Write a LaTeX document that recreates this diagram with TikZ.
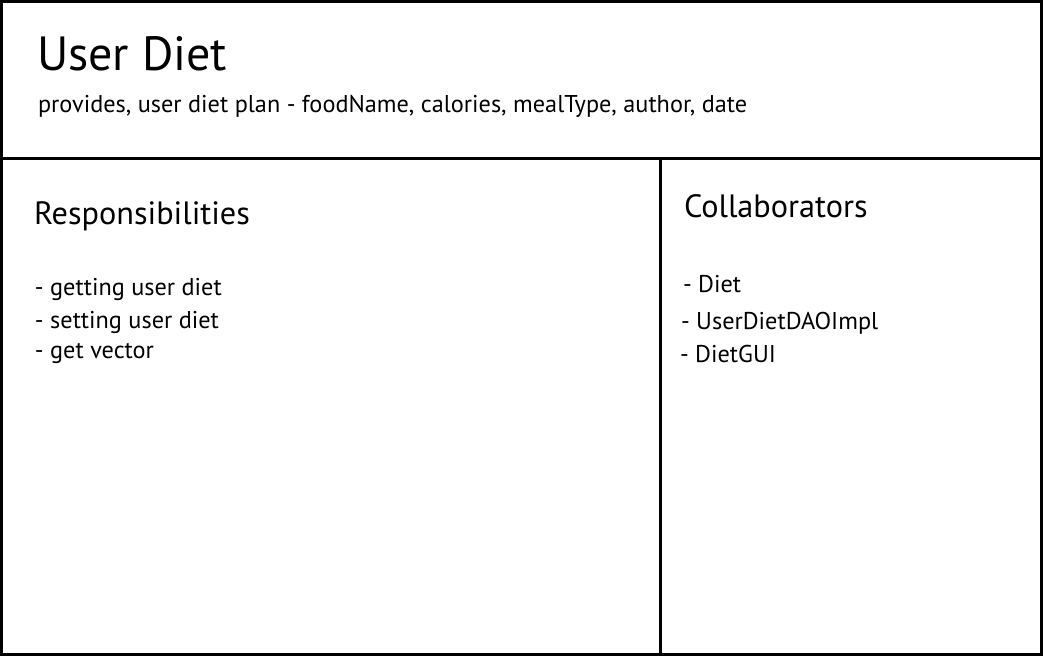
\documentclass[tikz,border=0pt]{standalone}
\usepackage{fontspec}
\setmainfont{PT Sans}
\usetikzlibrary{positioning}

\tikzset{
	card/.style={line width=2.3pt},
	txt/.style={anchor=base west,inner sep=0pt,outer sep=0pt},
	title/.style={txt,font=\fontsize{36}{40}\selectfont},
	sub/.style={txt,font=\fontsize{18.2}{22}\selectfont},
	head/.style={txt,font=\fontsize{24.2}{28}\selectfont},
	item/.style={txt,font=\fontsize{18.2}{22}\selectfont}
}

\begin{document}
\begin{tikzpicture}[x=0.75pt,y=-0.75pt]

\useasboundingbox (0,0) rectangle (1043,656);

% card frame
\coordinate (tl) at (1.5,1.5);
\coordinate (br) at (1041.5,654.5);
\path (tl) -- +(0,157) coordinate (ml);
\path (br) -- +(0,-496) coordinate (mr);
\path (660.5,158.5) coordinate (st);
\path (660.5,654.5) coordinate (sb);

\draw[card] (tl) rectangle (br);
\draw[card] (ml) -- (mr);
\draw[card] (st) -- (sb);

% class name
\node[title] (name) at (37,71) {User Diet};
\node[sub] (desc) at (38,113) {provides, user diet plan - foodName, calories, mealType, author, date};

% responsibilities
\node[head] (resp) at (34,224) {Responsibilities};
\node[item] (r1) at (35,296) {- getting user diet};
\node[item] (r2) at (35,328) {- setting user diet};
\node[item] (r3) at (35,358) {- get vector};

% collaborators
\node[head] (coll) at (684,218) {Collaborators};
\node[item] (c1) at (683,292) {- Diet};
\node[item] (c2) at (681,329) {- UserDietDAOImpl};
\node[item] (c3) at (680,362) {- DietGUI};

\end{tikzpicture}
\end{document}
